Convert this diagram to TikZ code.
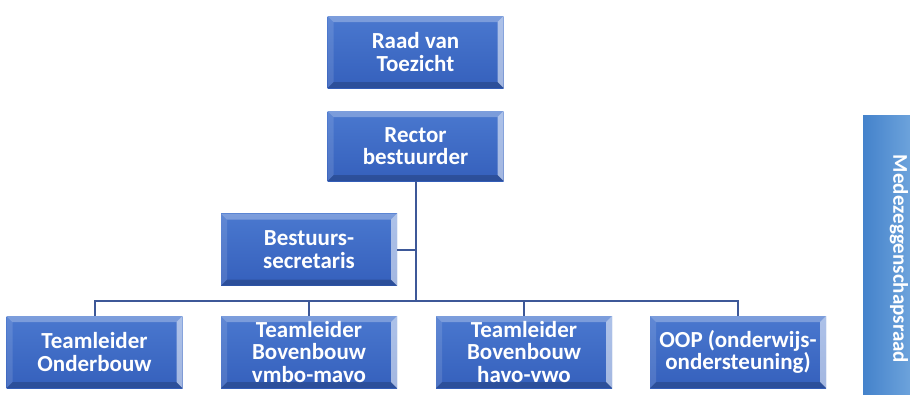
\documentclass[tikz,border=0pt]{standalone}
\usepackage{fontspec}
\setmainfont{Carlito}
\usetikzlibrary{calc}
\definecolor{boxtop}{HTML}{4A78CF}
\definecolor{boxbot}{HTML}{3560BC}
\definecolor{linec}{HTML}{3D5898}
\definecolor{mrleft}{HTML}{4482CB}
\definecolor{mrright}{HTML}{6EA4DC}
\tikzset{
  orgbox/.style={
    minimum width=176pt, minimum height=72pt, inner sep=0pt,
    top color=boxtop, bottom color=boxbot,
    text=white, font=\bfseries\fontsize{23}{22.5}\selectfont, align=center,
    path picture={
      \fill[white,opacity=0.28] (path picture bounding box.north west) -- (path picture bounding box.north east)
        -- ([shift={(-6pt,-6pt)}]path picture bounding box.north east) -- ([shift={(6pt,-6pt)}]path picture bounding box.north west) -- cycle;
      \fill[white,opacity=0.55] (path picture bounding box.north east) -- (path picture bounding box.south east)
        -- ([shift={(-6pt,6pt)}]path picture bounding box.south east) -- ([shift={(-6pt,-6pt)}]path picture bounding box.north east) -- cycle;
      \fill[black,opacity=0.18] (path picture bounding box.south west) -- (path picture bounding box.south east)
        -- ([shift={(-6pt,6pt)}]path picture bounding box.south east) -- ([shift={(6pt,6pt)}]path picture bounding box.south west) -- cycle;
      \fill[white,opacity=0.12] (path picture bounding box.north west) -- (path picture bounding box.south west)
        -- ([shift={(6pt,6pt)}]path picture bounding box.south west) -- ([shift={(6pt,-6pt)}]path picture bounding box.north west) -- cycle;
    }},
  conn/.style={draw=linec, line width=2pt}
}
\begin{document}
\begin{tikzpicture}[x=1pt,y=-1pt]
\useasboundingbox (0,0) rectangle (910,394);
\fill[white] (0,0) rectangle (910,394);
\node[orgbox] (raad) at (415.5,52) {Raad van\\Toezicht};
\node[orgbox, minimum height=70pt] (rector) at (415.5,146) {Rector\\bestuurder};
\node[orgbox] (bs) at (309,249.5) {Bestuurs-\\secretaris};
\node[orgbox] (t1) at (94.5,352) {Teamleider\\Onderbouw};
\node[orgbox] (t2) at (309,352) {Teamleider\\Bovenbouw\\vmbo-mavo};
\node[orgbox] (t3) at (524,352) {Teamleider\\Bovenbouw\\havo-vwo};
\node[orgbox] (t4) at (738,352) {OOP (onderwijs-\\ondersteuning)};
\coordinate (j) at (rector.south |- 0,301);
\draw[conn] (rector.south) -- (j);
\draw[conn] (bs.east) -- (rector.south |- bs.east);
\draw[conn] (j) -| (t1.north);
\draw[conn] (j) -| (t2.north);
\draw[conn] (j) -| (t3.north);
\draw[conn] (j) -| (t4.north);
\shade[left color=mrleft, right color=mrright] (863,115) rectangle (912,396);
\node[rotate=-90, text=white, font=\bfseries\fontsize{21}{22}\selectfont] (mr) at (899,259) {Medezeggenschapsraad};
\end{tikzpicture}
\end{document}
